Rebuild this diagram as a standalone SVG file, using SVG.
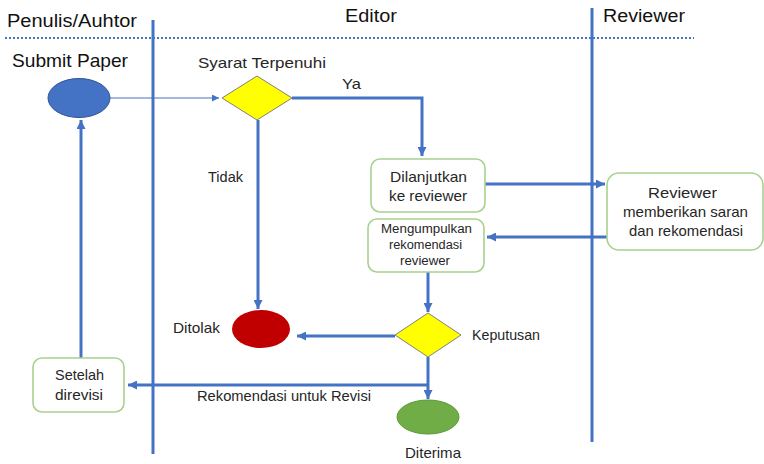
<svg xmlns="http://www.w3.org/2000/svg" width="764" height="464" viewBox="0 0 764 464">
<style>
text{font-family:"Liberation Sans",Arial,sans-serif;fill:#262626}
.t{font-size:18px;fill:#111}
.s{font-size:15px}
.xs{font-size:12px}
.box{fill:#fff;stroke:#a9d18e;stroke-width:1.6}
.c{fill:none;stroke:#4472c4;stroke-width:3}
.lane{stroke:#4472c4;stroke-width:3;fill:none}
.dia{fill:#ffff00;stroke:#7f7f7f;stroke-width:1}
</style>
<defs>
<marker id="ah" viewBox="0 0 10 10" refX="10" refY="5" markerWidth="9" markerHeight="9" markerUnits="userSpaceOnUse" orient="auto">
<path d="M0,0 L10,5 L0,10 z" fill="#4472c4"/>
</marker>
<marker id="ahs" viewBox="0 0 10 10" refX="10" refY="5" markerWidth="7" markerHeight="7" markerUnits="userSpaceOnUse" orient="auto">
<path d="M0,0 L10,5 L0,10 z" fill="#4472c4"/>
</marker>
</defs>
<rect width="764" height="464" fill="#fff"/>
<g id="lanes">
<line x1="5" y1="38" x2="694" y2="38" stroke="#4472c4" stroke-width="2" stroke-dasharray="2 2"/>
<line class="lane" x1="153" y1="20" x2="153" y2="454"/>
<line class="lane" x1="592" y1="8" x2="592" y2="442"/>
<text class="t" x="7" y="27" textLength="130" lengthAdjust="spacingAndGlyphs">Penulis/Auhtor</text>
<text class="t" x="345" y="22" textLength="52" lengthAdjust="spacingAndGlyphs">Editor</text>
<text class="t" x="603" y="22" textLength="82" lengthAdjust="spacingAndGlyphs">Reviewer</text>
</g>
<g id="connectors">
<line x1="110" y1="98" x2="219" y2="98" stroke="#4472c4" stroke-width="1.2" marker-end="url(#ahs)"/>
<polyline class="c" points="292,98 422,98 422,156" marker-end="url(#ah)"/>
<line class="c" x1="258" y1="120" x2="258" y2="309" stroke-width="2" marker-end="url(#ah)"/>
<line class="c" x1="485" y1="184" x2="605" y2="184" marker-end="url(#ah)"/>
<line class="c" x1="607" y1="237" x2="487" y2="237" marker-end="url(#ah)"/>
<line class="c" x1="428" y1="272" x2="428" y2="312" marker-end="url(#ah)"/>
<line class="c" x1="395" y1="336" x2="297" y2="336" marker-end="url(#ah)"/>
<line class="c" x1="428" y1="357" x2="428" y2="399" marker-end="url(#ah)"/>
<line class="c" x1="429" y1="385" x2="128" y2="385" marker-end="url(#ah)"/>
<line class="c" x1="81" y1="358" x2="81" y2="120" stroke-width="2" marker-end="url(#ah)"/>
<text class="s" x="342" y="89" textLength="19" lengthAdjust="spacingAndGlyphs">Ya</text>
<text class="s" x="208" y="182" textLength="35" lengthAdjust="spacingAndGlyphs">Tidak</text>
<text class="s" x="197" y="401" textLength="174" lengthAdjust="spacingAndGlyphs">Rekomendasi  untuk Revisi</text>
</g>
<g id="submit">
<text x="12" y="67" style="font-size:19px;fill:#111" textLength="116" lengthAdjust="spacingAndGlyphs">Submit Paper</text>
<ellipse cx="79" cy="98" rx="31" ry="19.5" fill="#4472c4" stroke="#2f5597" stroke-width="1"/>
</g>
<g id="syarat">
<polygon class="dia" points="222,98 257,76 292,98 257,120"/>
<text class="s" x="198" y="68" textLength="128" lengthAdjust="spacingAndGlyphs">Syarat Terpenuhi</text>
</g>
<g id="dilanjutkan">
<rect class="box" x="371" y="159" width="114" height="53" rx="9"/>
<text class="s" x="390" y="182" textLength="77" lengthAdjust="spacingAndGlyphs">Dilanjutkan</text>
<text class="s" x="389" y="201" textLength="78" lengthAdjust="spacingAndGlyphs">ke reviewer</text>
</g>
<g id="reviewer">
<rect class="box" x="607" y="173" width="156" height="77" rx="12"/>
<text class="s" x="648" y="198" textLength="69" lengthAdjust="spacingAndGlyphs">Reviewer</text>
<text class="s" x="623" y="217" textLength="125" lengthAdjust="spacingAndGlyphs">memberikan saran</text>
<text class="s" x="629" y="236" textLength="114" lengthAdjust="spacingAndGlyphs">dan rekomendasi</text>
</g>
<g id="mengumpulkan">
<rect class="box" x="368" y="219" width="116" height="53" rx="9"/>
<text class="xs" x="381" y="233" textLength="91" lengthAdjust="spacingAndGlyphs">Mengumpulkan</text>
<text class="xs" x="389" y="249" textLength="73" lengthAdjust="spacingAndGlyphs">rekomendasi</text>
<text class="xs" x="400" y="265" textLength="50" lengthAdjust="spacingAndGlyphs">reviewer</text>
</g>
<g id="keputusan">
<polygon class="dia" points="395,335 428,313 461,335 428,357"/>
<text class="s" x="472" y="340" textLength="68" lengthAdjust="spacingAndGlyphs">Keputusan</text>
</g>
<g id="ditolak">
<ellipse cx="261" cy="329" rx="29" ry="19" fill="#c00000"/>
<text class="s" x="173" y="333" textLength="47" lengthAdjust="spacingAndGlyphs">Ditolak</text>
</g>
<g id="diterima">
<ellipse cx="428" cy="417" rx="31" ry="17" fill="#70ad47" stroke="#5b9a38" stroke-width="1"/>
<text class="s" x="405" y="458" textLength="56" lengthAdjust="spacingAndGlyphs">Diterima</text>
</g>
<g id="setelah">
<rect class="box" x="33" y="358" width="91" height="54" rx="9"/>
<text class="s" x="55" y="380" textLength="49" lengthAdjust="spacingAndGlyphs">Setelah</text>
<text class="s" x="55" y="400" textLength="48" lengthAdjust="spacingAndGlyphs">direvisi</text>
</g>
</svg>
